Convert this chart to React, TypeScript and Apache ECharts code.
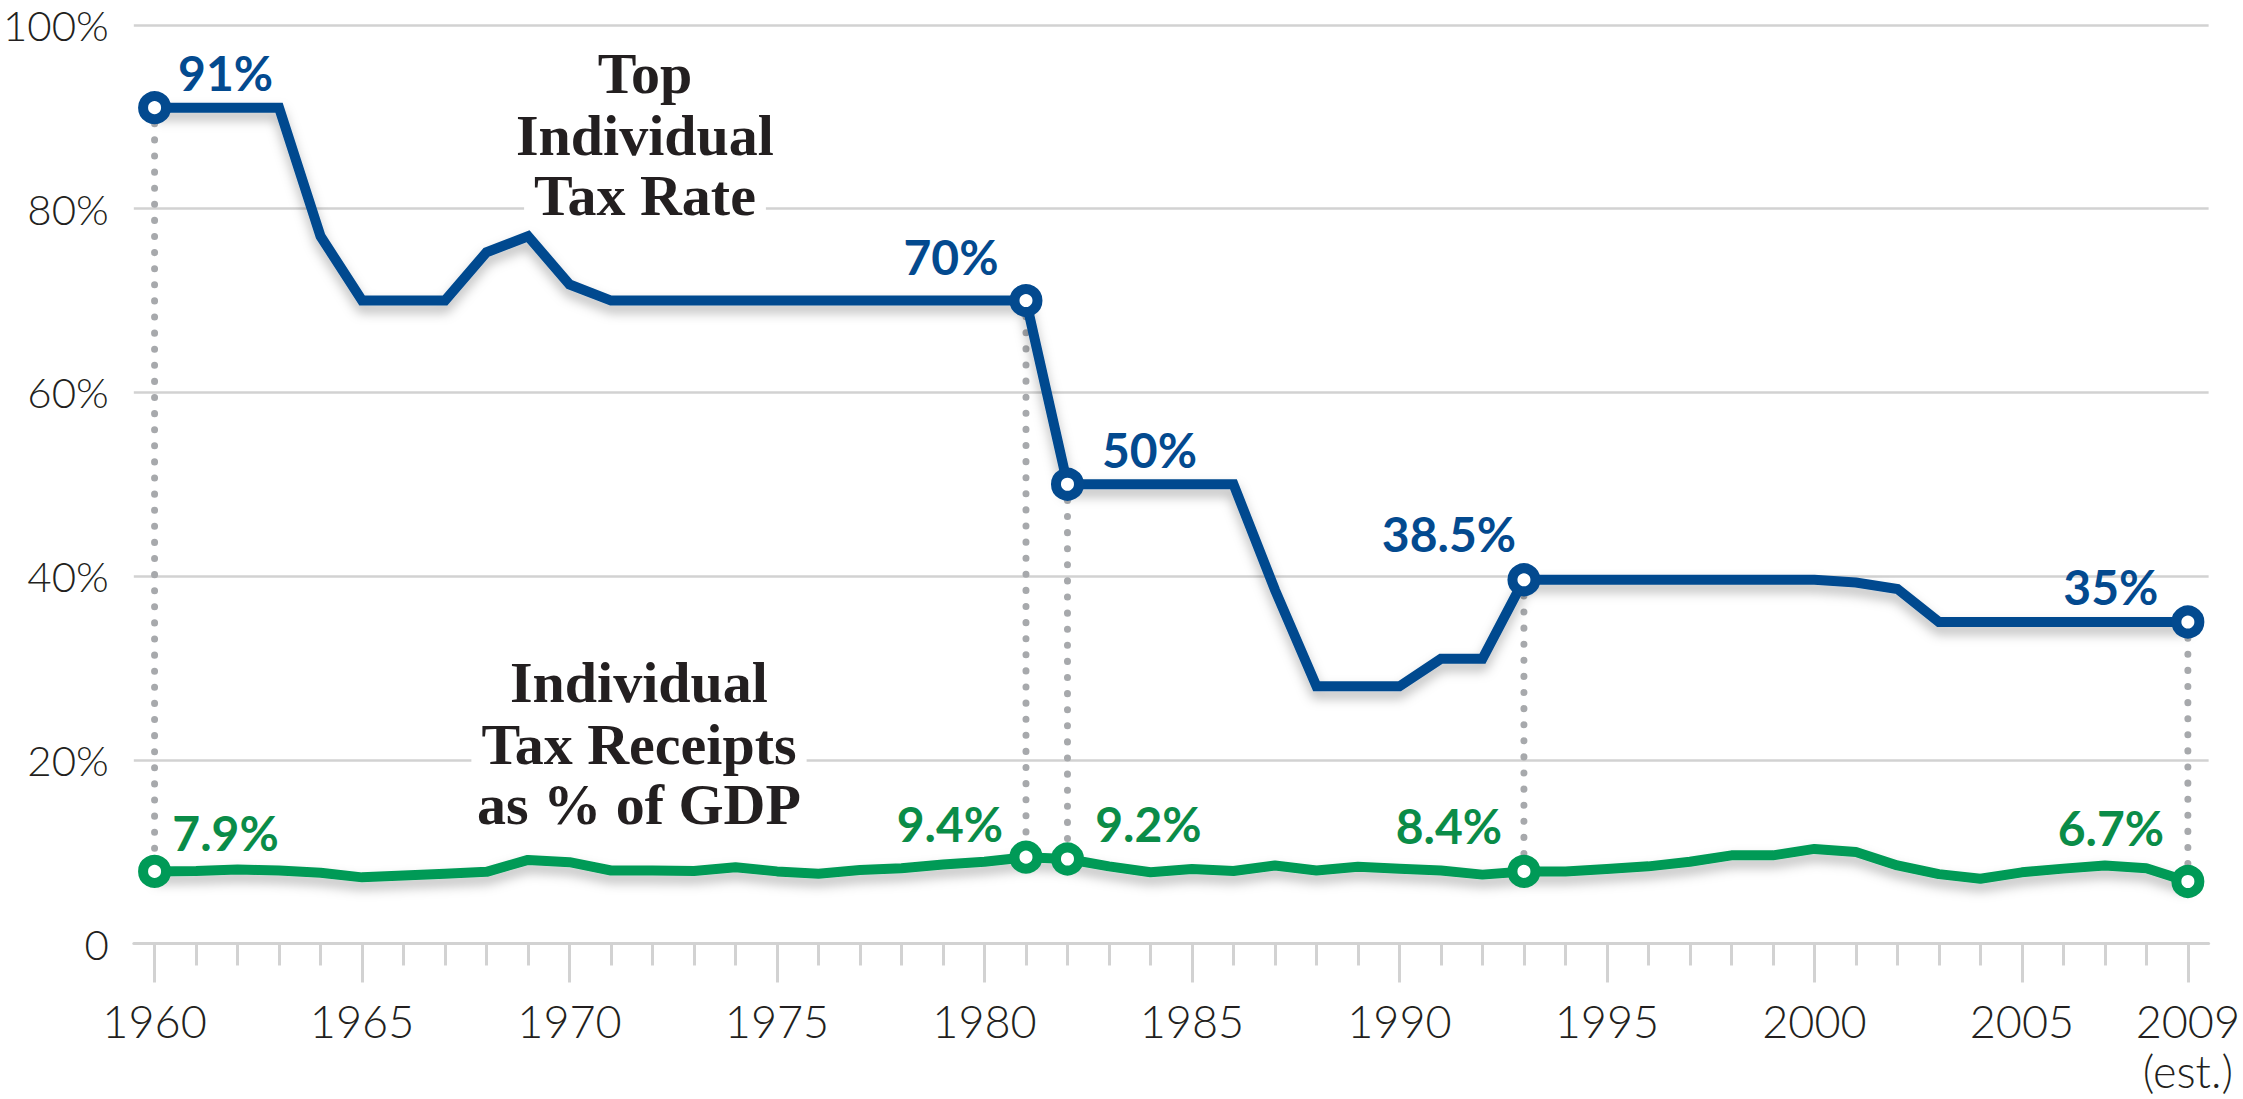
import React, { useEffect, useRef } from 'react';
import * as echarts from 'echarts';

// ---------- data ----------
const years = [
  '1960', '1961', '1962', '1963', '1964', '1965', '1966', '1967', '1968', '1969',
  '1970', '1971', '1972', '1973', '1974', '1975', '1976', '1977', '1978', '1979',
  '1980', '1981', '1982', '1983', '1984', '1985', '1986', '1987', '1988', '1989',
  '1990', '1991', '1992', '1993', '1994', '1995', '1996', '1997', '1998', '1999',
  '2000', '2001', '2002', '2003', '2004', '2005', '2006', '2007', '2008', '2009',
];

const topRate = [
  91, 91, 91, 91, 77, 70, 70, 70, 75.25, 77,
  71.75, 70, 70, 70, 70, 70, 70, 70, 70, 70,
  70, 70, 50, 50, 50, 50, 50, 38.5, 28, 28,
  28, 31, 31, 39.6, 39.6, 39.6, 39.6, 39.6, 39.6, 39.6,
  39.6, 39.3, 38.6, 35, 35, 35, 35, 35, 35, 35,
];

const receipts = [
  7.85, 7.9, 8.05, 7.95, 7.7, 7.2, 7.4, 7.6, 7.8, 9.1,
  8.85, 7.95, 7.95, 7.9, 8.3, 7.85, 7.6, 8.0, 8.2, 8.6,
  8.9, 9.4, 9.2, 8.4, 7.75, 8.1, 7.9, 8.5, 7.95, 8.35,
  8.15, 7.95, 7.5, 7.85, 7.85, 8.1, 8.4, 8.9, 9.6, 9.6,
  10.3, 9.95, 8.5, 7.55, 7.05, 7.75, 8.15, 8.5, 8.2, 6.75,
];

const yTicks = [0, 20, 40, 60, 80, 100];
const xTickYears = ['1960', '1965', '1970', '1975', '1980', '1985', '1990', '1995', '2000', '2005', '2009'];
const estYear = '2009';
const estNote = '(est.)';

const rateCallouts = [
  { year: '1960', text: '91%' },
  { year: '1981', text: '70%' },
  { year: '1982', text: '50%' },
  { year: '1993', text: '38.5%' },
  { year: '2009', text: '35%' },
];
const receiptCallouts = [
  { year: '1960', text: '7.9%' },
  { year: '1981', text: '9.4%' },
  { year: '1982', text: '9.2%' },
  { year: '1993', text: '8.4%' },
  { year: '2009', text: '6.7%' },
];

const rateTitle = ['Top', 'Individual', 'Tax Rate'];
const receiptsTitle = ['Individual', 'Tax Receipts', 'as % of GDP'];

// ---------- layout / style ----------
const BLUE = '#034a8f';
const GREEN = '#009a57';
const GREEN_TEXT = '#0a8c48';
const GRID_GRAY = '#d2d2d2';
const DOT_GRAY = '#a7a9ac';
const TEXT = '#231f20';

const rateLabelOffsets: Record<string, number[]> = {
  '1960': [71, -35],
  '1981': [-75, -44],
  '1982': [82, -35],
  '1993': [-75, -46],
  '2009': [-77, -36],
};
const receiptLabelOffsets: Record<string, number[]> = {
  '1960': [71, -39],
  '1981': [-76, -34],
  '1982': [81, -35],
  '1993': [-75, -46],
  '2009': [-77, -54],
};

const rateTitleLayout = { x: 645, ys: [73, 135, 195] };
const receiptsTitleLayout = { x: 639, ys: [682, 744, 804] };

function buildData(
  values: number[],
  callouts: { year: string; text: string }[],
  offsets: Record<string, number[]>,
  color: string,
  labelColor: string,
) {
  return values.map((v, i) => {
    const c = callouts.find((k) => k.year === years[i]);
    if (!c) return { value: v, symbol: 'none' };
    return {
      value: v,
      symbol: 'circle',
      symbolSize: 23,
      itemStyle: { color: '#ffffff', borderColor: color, borderWidth: 10 },
      label: {
        show: true,
        position: 'inside',
        offset: offsets[c.year],
        formatter: c.text,
        color: labelColor,
        fontSize: 48,
        fontWeight: 'bold',
        fontFamily: 'Lato',
        align: 'center',
        verticalAlign: 'middle',
      },
    };
  });
}

function titleElements(lines: string[], layout: { x: number; ys: number[] }) {
  return lines.map((t, i) => ({
    type: 'text',
    z: 5,
    silent: true,
    style: {
      text: t,
      x: layout.x,
      y: layout.ys[i],
      fontSize: 58,
      fontFamily: 'Liberation Serif',
      fontWeight: 'bold',
      fill: TEXT,
      align: 'center',
      verticalAlign: 'middle',
      backgroundColor: '#ffffff',
      padding: [0, 10],
      lineHeight: 50,
    },
  }));
}

export default function App() {
  const ref = useRef<HTMLDivElement>(null);

  useEffect(() => {
    document.body.style.margin = '0';
    const chart = echarts.init(ref.current!, null, { renderer: 'svg' });

    const majorTick = (idx: number, val: string) => xTickYears.indexOf(years[idx] ?? val) >= 0;

    const connectorData = rateCallouts.map((c) => {
      const i = years.indexOf(c.year);
      return [i, topRate[i], receipts[i]];
    });

    const lineShadow = {
      shadowColor: 'rgba(0,0,0,0.28)',
      shadowBlur: 12,
      shadowOffsetY: 7,
    };

    const option: any = {
      animation: false,
      backgroundColor: '#ffffff',
      grid: { left: 128, right: 33, top: 25, bottom: 155.5, containLabel: false },
      xAxis: [
        {
          type: 'category',
          data: years,
          boundaryGap: true,
          position: 'bottom',
          axisLine: { show: true, lineStyle: { color: GRID_GRAY, width: 3 } },
          axisTick: {
            show: true,
            alignWithLabel: true,
            interval: majorTick,
            length: 39,
            lineStyle: { color: GRID_GRAY, width: 3 },
          },
          axisLabel: {
            show: true,
            interval: majorTick,
            margin: 52,
            fontSize: 45,
            fontFamily: 'Lato',
            fontWeight: 300,
            color: TEXT,
            lineHeight: 50,
            formatter: (v: string) => (v === estYear ? v + '\n' + estNote : v),
          },
          splitLine: { show: false },
        },
        {
          type: 'category',
          data: years,
          boundaryGap: true,
          position: 'bottom',
          axisLine: { show: false },
          axisTick: {
            show: true,
            alignWithLabel: true,
            interval: 0,
            length: 22,
            lineStyle: { color: GRID_GRAY, width: 3 },
          },
          axisLabel: { show: false },
          splitLine: { show: false },
        },
      ],
      yAxis: {
        type: 'value',
        min: 0,
        max: 100,
        interval: 20,
        axisLine: { show: false },
        axisTick: { show: false },
        axisLabel: {
          margin: 25,
          fontSize: 42,
          fontFamily: 'Lato',
          fontWeight: 300,
          color: TEXT,
          formatter: (v: number) => (yTicks.indexOf(v) >= 0 ? (v === 0 ? '0' : v + '%') : ''),
        },
        splitLine: { show: true, lineStyle: { color: GRID_GRAY, width: 2.5 } },
      },
      graphic: [
        ...titleElements(rateTitle, rateTitleLayout),
        ...titleElements(receiptsTitle, receiptsTitleLayout),
      ],
      series: [
        {
          name: 'connectors',
          type: 'custom',
          xAxisIndex: 0,
          silent: true,
          z: 1,
          data: connectorData,
          encode: { x: 0, y: [1, 2] },
          renderItem: (params: any, api: any) => {
            const top = api.coord([api.value(0), api.value(1)]);
            const bot = api.coord([api.value(0), api.value(2)]);
            return {
              type: 'line',
              shape: { x1: top[0], y1: top[1], x2: bot[0], y2: bot[1] },
              style: {
                stroke: DOT_GRAY,
                lineWidth: 7,
                lineDash: [0.1, 16],
                lineCap: 'round',
                fill: null,
              },
            };
          },
        },
        {
          name: 'Top Individual Tax Rate',
          type: 'line',
          xAxisIndex: 0,
          data: buildData(topRate, rateCallouts, rateLabelOffsets, BLUE, BLUE),
          showSymbol: true,
          silent: true,
          z: 3,
          lineStyle: { color: BLUE, width: 10, join: 'miter', ...lineShadow },
          itemStyle: { color: BLUE },
          emphasis: { disabled: true },
        },
        {
          name: 'Individual Tax Receipts as % of GDP',
          type: 'line',
          xAxisIndex: 0,
          data: buildData(receipts, receiptCallouts, receiptLabelOffsets, GREEN, GREEN_TEXT),
          showSymbol: true,
          silent: true,
          z: 3,
          lineStyle: { color: GREEN, width: 10, join: 'round', ...lineShadow },
          itemStyle: { color: GREEN },
          emphasis: { disabled: true },
        },
      ],
    };

    chart.setOption(option);
    return () => chart.dispose();
  }, []);

  return <div ref={ref} style={{ width: 2243, height: 1099 }} />;
}
